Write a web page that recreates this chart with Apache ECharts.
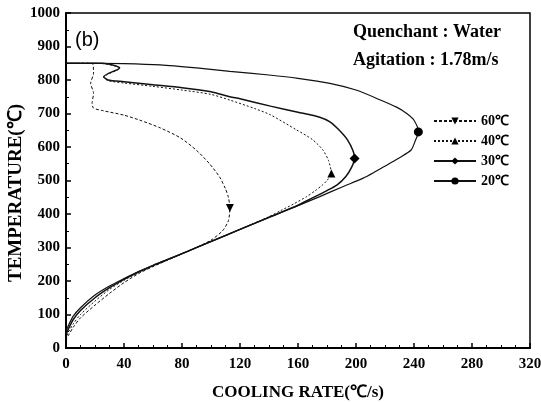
<!DOCTYPE html>
<html><head><meta charset="utf-8">
<script src="https://cdn.jsdelivr.net/npm/echarts@6/dist/echarts.min.js"></script>
<style>html,body{margin:0;padding:0;background:#fff}#c{width:541px;height:403px}</style>
</head><body><div id="c"></div>
<script>
// Series names (legend order)
const seriesNames = ['60\u2103', '40\u2103', '30\u2103', '20\u2103'];
// Curves: [cooling rate (°C/s), temperature (°C)]
const curve60 = [[0,850],[18,850],[19,820],[17,790],[19,760],[18,730],[19,716],[26,708],[40,695],[51,680],[65,657],[79,627],[90,590],[99,550],[106,510],[110,475],[112,450],[113,418],[112,380],[108,350],[100,322],[90,300],[83,287],[70,262],[60,243],[50,222],[40,195],[30,163],[20,128],[10,90],[5,62],[2,40],[0,25]];
const curve40 = [[0,850],[25,849],[37,835],[26,808],[29,798],[40,791],[60,781],[80,770],[100,757],[113,740],[130,715],[141,696],[159,651],[170,622],[177,592],[181,560],[183,521],[180,500],[177,487],[172,470],[166,452],[157,430],[148,410],[140,392],[120,354],[100,318],[83,287],[70,263],[60,245],[50,225],[40,202],[30,175],[20,140],[10,100],[5,72],[2,50],[0,30]];
const curve30 = [[0,850],[25,850],[37,836],[26,810],[29,800],[40,795],[60,786],[80,777],[100,765],[113,750],[120,744],[141,722],[160,704],[175,689],[182,675],[188,652],[194,622],[198,588],[199,566],[197,540],[193,512],[187,487],[180,470],[170,448],[160,426],[140,390],[120,354],[100,318],[83,287],[70,264],[60,246],[50,227],[40,205],[30,180],[20,150],[10,112],[5,85],[2,60],[0,40]];
const curve20 = [[0,850],[20,850],[40,849],[65,845],[90,836],[113,826],[140,815],[160,805],[182,790],[200,770],[216,742],[228,719],[235,700],[240,680],[243,645],[241,620],[238,591],[230,568],[222,548],[212,523],[205,507],[190,480],[175,452],[160,425],[140,390],[120,354],[100,318],[83,287],[70,264],[60,247],[50,228],[40,207],[30,185],[20,158],[10,120],[5,95],[2,70],[0,50]];
// Marked points on each curve
const marker60 = [113,418];
const marker40 = [183,521];
const marker30 = [199,566];
const marker20 = [243,645];
// Axis ticks
const xTicks = [0,40,80,120,160,200,240,280,320];
const yTicks = [0,100,200,300,400,500,600,700,800,900,1000];

const serif = '"Liberation Serif","Times New Roman",serif';
function build(name, curve, marker, sym, size, rot, type, width) {
  return {
    name: name, type: 'line', symbol: sym, symbolSize: size, symbolRotate: rot,
    showSymbol: true, smooth: 0.25, animation: false,
    lineStyle: {color: '#111', width: width, type: type},
    itemStyle: {color: '#000'},
    data: curve.map(p => ({
      value: p,
      symbol: (p[0] === marker[0] && p[1] === marker[1]) ? sym : 'none'
    }))
  };
}
const chart = echarts.init(document.getElementById('c'));
chart.setOption({
  animation: false,
  backgroundColor: '#fff',
  grid: {left: 66, right: 11, top: 13, bottom: 55, containLabel: false, outerBoundsMode: 'none',
         show: true, borderColor: '#000', borderWidth: 1.5},
  legend: {
    orient: 'vertical', left: 428, top: 109, itemWidth: 42, itemHeight: 9, itemGap: 6,
    data: seriesNames,
    textStyle: {fontFamily: serif, fontWeight: 'bold', fontSize: 14, color: '#000'}
  },
  xAxis: {
    type: 'value', min: xTicks[0], max: xTicks[xTicks.length-1], interval: 40,
    name: 'COOLING RATE(\u2103/s)', nameLocation: 'middle', nameGap: 36,
    nameTextStyle: {fontFamily: serif, fontWeight: 'bold', fontSize: 17, color: '#000'},
    axisLine: {lineStyle: {color: '#000', width: 2}},
    axisTick: {inside: true, length: 5, lineStyle: {color: '#000', width: 1.5}},
    minorTick: {show: true, splitNumber: 4, length: 3, lineStyle: {color: '#000', width: 1}},
    axisLabel: {fontFamily: serif, fontWeight: 'bold', fontSize: 15, color: '#000', margin: 9, formatter: v => String(v)},
    splitLine: {show: false}
  },
  yAxis: {
    type: 'value', min: yTicks[0], max: yTicks[yTicks.length-1], interval: 100,
    axisLine: {lineStyle: {color: '#000', width: 2}},
    axisTick: {inside: true, length: 5, lineStyle: {color: '#000', width: 1.5}},
    minorTick: {show: true, splitNumber: 2, length: 3, lineStyle: {color: '#000', width: 1}},
    axisLabel: {fontFamily: serif, fontWeight: 'bold', fontSize: 15, color: '#000', margin: 6, formatter: v => String(v)},
    splitLine: {show: false}
  },
  graphic: [
    {type: 'text', x: 16, y: 193, rotation: Math.PI / 2,
     style: {text: 'TEMPERATURE(\u2103)', font: 'bold 19px "Liberation Serif", serif', fill: '#000', align: 'center', verticalAlign: 'middle'}},
    {type: 'text', left: 75, top: 30, style: {text: '(b)', font: '20px "Liberation Sans", Arial, sans-serif', fill: '#000'}},
    {type: 'text', left: 353, top: 23, style: {text: 'Quenchant : Water', font: 'bold 18px "Liberation Serif", serif', fill: '#000'}},
    {type: 'text', left: 353, top: 51, style: {text: 'Agitation : 1.78m/s', font: 'bold 18px "Liberation Serif", serif', fill: '#000'}}
  ],
  series: [
    build(seriesNames[0], curve60, marker60, 'triangle', 8, 180, [3, 2], 1),
    build(seriesNames[1], curve40, marker40, 'triangle', 8, 0, [2, 2], 1),
    build(seriesNames[2], curve30, marker30, 'diamond', 10, 0, 'solid', 1.5),
    build(seriesNames[3], curve20, marker20, 'circle', 9, 0, 'solid', 1.2)
  ]
});
</script></body></html>
